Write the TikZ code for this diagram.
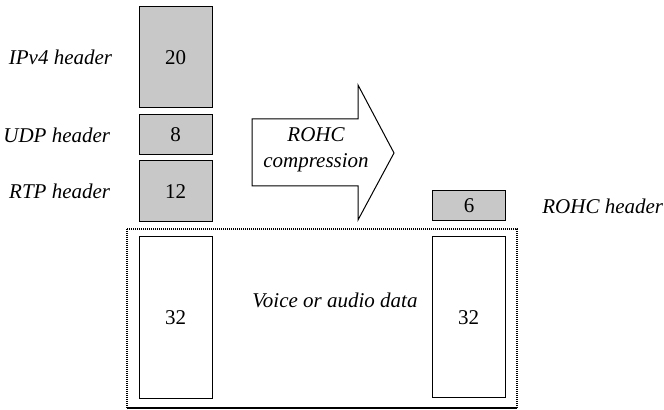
\documentclass[tikz,border=0pt]{standalone}
\usepackage{fontspec}
\setmainfont{Liberation Serif}
\usetikzlibrary{positioning}
\definecolor{hdrgray}{RGB}{200,200,200}
\newcommand{\figfont}{\fontsize{10.5}{13}\selectfont}

\begin{document}
\begin{tikzpicture}[x=0.5pt, y=-0.5pt,
    every node/.style={font=\figfont},
    hdr/.style={draw, line width=0.5pt, fill=hdrgray, minimum width=36.5pt, inner sep=0pt},
    pay/.style={draw, line width=0.5pt, fill=white, minimum width=36.5pt, inner sep=0pt},
    lbl/.style={font=\figfont\itshape, inner sep=0pt},
    frame/.style={draw, line width=1pt, dash pattern=on 0.6pt off 0.4pt}]
  \useasboundingbox (0,0) rectangle (664,410);
  % uncompressed headers
  \node[hdr, minimum height=50.5pt] (ipv4) at (175.5,57.5) {20};
  \node[hdr, minimum height=20pt] (udp) at (175.5,135) {8};
  \node[hdr, minimum height=30.5pt] (rtp) at (175.5,191.5) {12};
  \node[lbl, left=13pt of ipv4] (ipv4l) {IPv4 header};
  \node[lbl, left=14pt of udp] (udpl) {UDP header};
  \node[lbl, left=14pt of rtp] (rtpl) {RTP header};
  % compression arrow
  \draw[line width=0.5pt, fill=white] (252,119) -- (358,119) -- (358,85) -- (394,153)
    -- (358,220) -- (358,186) -- (252,186) -- cycle;
  \node[lbl, align=center] (compr) at (316,150) {ROHC\\compression};
  % compressed header
  \node[hdr, minimum height=15pt] (rohc) at (469,206) {6};
  \node[lbl, right=18pt of rohc] (rohcl) {ROHC header};
  % payload
  \draw[frame] (127,229) rectangle (517,408.5);
  \node[pay, minimum height=81pt] (payl) at (175.5,318) {32};
  \node[pay, minimum height=80.5pt] (payr) at (468.5,317.5) {32};
  \node[lbl] (voice) at (335,300) {Voice or audio data};
\end{tikzpicture}
\end{document}
